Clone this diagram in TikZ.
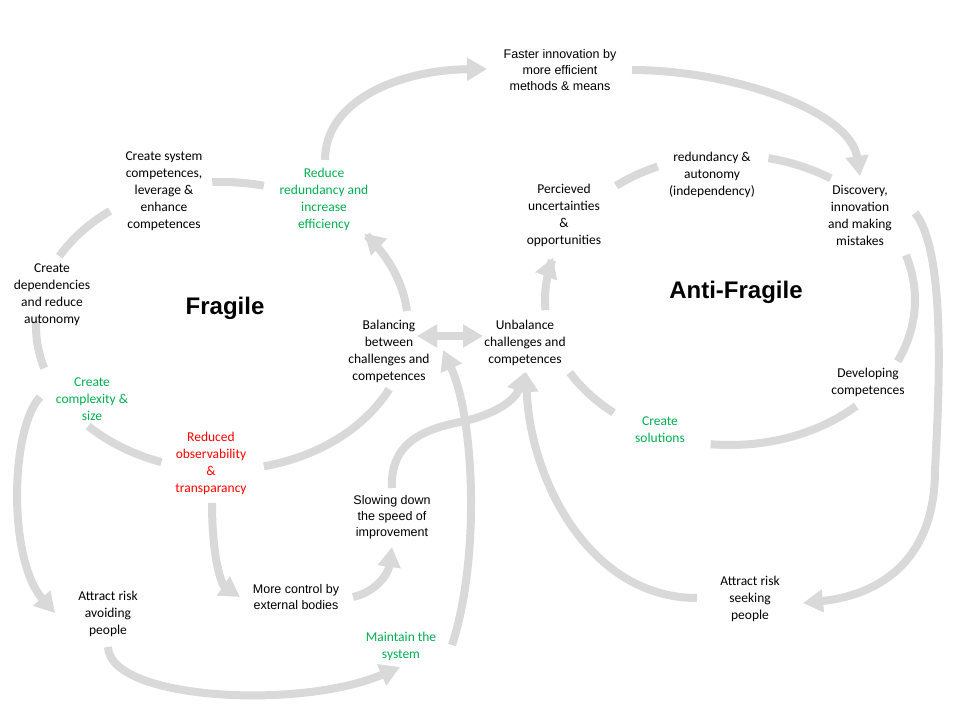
\documentclass[tikz,border=0pt]{standalone}
\usepackage{fontspec}
\setmainfont{Carlito}
\newfontfamily\arialf{Liberation Sans}
\usetikzlibrary{arrows.meta}
\definecolor{arcgray}{HTML}{D9D9D9}
\definecolor{okgreen}{HTML}{00B050}
\definecolor{okred}{HTML}{FF0000}
\begin{document}
\begin{tikzpicture}[x=1pt,y=-1pt,
  arc/.style={draw=arcgray, line width=8pt},
  arrowed/.style={-{Triangle[width=22pt,length=20pt]}},
  twoway/.style={{Triangle[width=22pt,length=20pt]}-{Triangle[width=22pt,length=20pt]}},
  lbl/.style={align=center, inner sep=0pt, font=\fontsize{13.5}{17}\selectfont},
  albl/.style={align=center, inner sep=0pt, font=\arialf\fontsize{12.5}{16}\selectfont},
  big/.style={inner sep=0pt, font=\arialf\bfseries\fontsize{24}{28}\selectfont},
  grn/.style={text=okgreen},
  rd/.style={text=okred}]
\useasboundingbox[fill=white] (0,0) rectangle (960,720);

% ---- Fragile loop (ellipse centre 222,326; radii 186,144) ----
\draw[arc] plot[domain=267:283,samples=20] ({222+186*cos(\x)},{326+144*sin(\x)});
\draw[arc] plot[domain=209:233,samples=20] ({222+186*cos(\x)},{326+144*sin(\x)});
\draw[arc] plot[domain=163:182,samples=20] ({222+186*cos(\x)},{326+144*sin(\x)});
\draw[arc] plot[domain=109:136,samples=20] ({222+186*cos(\x)},{326+144*sin(\x)});
\draw[arc] plot[domain=26:77,samples=30] ({222+186*cos(\x)},{326+144*sin(\x)});
\draw[arc,arrowed] plot[domain=354:320,samples=30] ({222+186*cos(\x)},{326+144*sin(\x)});

% ---- Anti-Fragile loop (ellipse centre 730,300; radii 185,145) ----
\draw[arc] plot[domain=232:247,samples=20] ({730+185*cos(\x)},{300+145*sin(\x)});
\draw[arc] plot[domain=282:303,samples=20] ({730+185*cos(\x)},{300+145*sin(\x)});
\draw[arc] plot[domain=-18:25,samples=30] ({730+185*cos(\x)},{300+145*sin(\x)});
\draw[arc] plot[domain=47:96,samples=30] ({730+185*cos(\x)},{300+145*sin(\x)});
\draw[arc] plot[domain=129:150,samples=20] ({730+185*cos(\x)},{300+145*sin(\x)});
\draw[arc,arrowed] plot[domain=176:197,samples=20] ({730+185*cos(\x)},{300+145*sin(\x)});

% ---- connectors ----
\draw[arc,arrowed] (325,160) .. controls (325,100) and (400,70) .. (487,69);
\draw[arc,arrowed] (632,70) .. controls (730,70) and (850,110) .. (860,176);
\draw[arc,twoway] (417,336) -- (483,336);
\draw[arc,arrowed] (452,645) .. controls (480,560) and (475,420) .. (443,350);
\draw[arc,arrowed] (392,488) .. controls (390,445) and (420,430) .. (460,422) .. controls (495,415) and (515,400) .. (525,372);
\draw[arc,arrowed] (697,598) .. controls (590,598) and (530,480) .. (526,372);
\draw[arc,arrowed] (353,597) .. controls (375,592) and (388,575) .. (392,547);
\draw[arc,arrowed] (212,503) .. controls (212,560) and (222,585) .. (240,597);
\draw[arc,arrowed] (40,397) .. controls (10,430) and (8,560) .. (55,613);
\draw[arc,arrowed] (108,647) .. controls (110,700) and (300,710) .. (400,667);
\draw[arc,arrowed] (915,213) .. controls (945,250) and (940,380) .. (935,470) .. controls (935,560) and (880,595) .. (803,603);

% ---- labels ----
\node[albl] (faster) at (560,70) {Faster innovation by\\more efficient\\methods \& means};
\node[lbl] (csys) at (164,191) {Create system\\competences,\\leverage \&\\enhance\\competences};
\node[lbl,grn] (reduce) at (324,199) {Reduce\\redundancy and\\increase\\efficiency};
\node[lbl] (cdep) at (52,295) {Create\\dependencies\\and reduce\\autonomy};
\node[big] (fragile) at (225,308) {Fragile};
\node[lbl] (bal) at (389,351) {Balancing\\between\\challenges and\\competences};
\node[lbl] (unbal) at (525,343) {Unbalance\\challenges and\\competences};
\node[lbl] (perc) at (564,215) {Percieved\\uncertainties\\\&\\opportunities};
\node[lbl] (redund) at (712,175) {redundancy \&\\autonomy\\(independency)};
\node[lbl] (disc) at (860,215) {Discovery,\\innovation\\and making\\mistakes};
\node[big] (anti) at (736,292) {Anti-Fragile};
\node[lbl] (dev) at (868,382) {Developing\\competences};
\node[lbl,grn] (csol) at (660,430) {Create\\solutions};
\node[lbl,grn] (ccomp) at (92,399) {Create\\complexity \&\\size};
\node[lbl,rd] (robs) at (211,463) {Reduced\\observability\\\&\\transparancy};
\node[albl] (slow) at (392,517) {Slowing down\\the speed of\\improvement};
\node[albl] (more) at (296,597) {More control by\\external bodies};
\node[lbl] (avoid) at (108,614) {Attract risk\\avoiding\\people};
\node[lbl,grn] (maint) at (401,646) {Maintain the\\system};
\node[lbl] (seek) at (750,599) {Attract risk\\seeking\\people};
\end{tikzpicture}
\end{document}
